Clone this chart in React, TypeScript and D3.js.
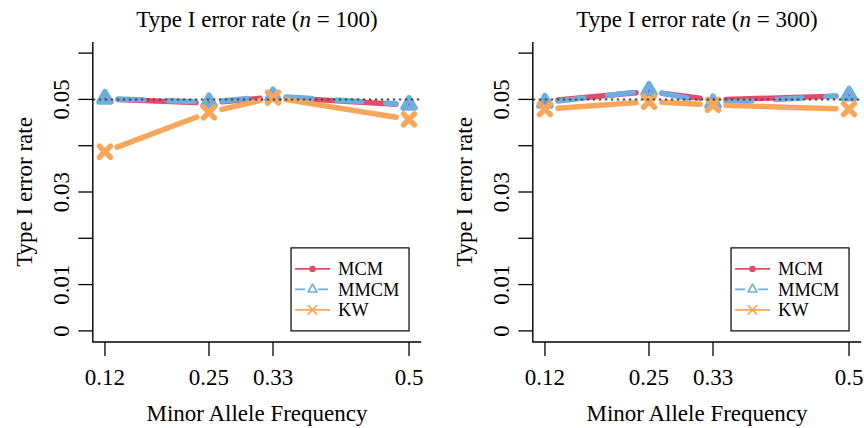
import React from 'react';
import * as d3 from 'd3';

// ---------- data ----------
const mafs = [0.12, 0.25, 0.33, 0.5];
const xTickLabels = ['0.12', '0.25', '0.33', '0.5'];
const yTicks = [0, 0.01, 0.02, 0.03, 0.04, 0.05, 0.06];
const yTickLabels = ['0', '0.01', '', '0.03', '', '0.05', ''];
const sampleSizes = [100, 300];
const seriesNames = ['MCM', 'MMCM', 'KW'];
const seriesColors = ['#E34B6A', '#6CAEE0', '#F9A65A'];
const nominalLevel = 0.05;

const mcm100 = [0.0501, 0.0492, 0.0505, 0.0488];
const mmcm100 = [0.0502, 0.0494, 0.0507, 0.0489];
const kw100 = [0.0387, 0.0472, 0.0504, 0.0457];

const mcm300 = [0.0496, 0.0517, 0.0499, 0.0508];
const mmcm300 = [0.0493, 0.0519, 0.0492, 0.0509];
const kw300 = [0.0479, 0.0495, 0.0488, 0.0479];

const panelData = [
  [mcm100, mmcm100, kw100],
  [mcm300, mmcm300, kw300],
];

// ---------- layout ----------
const W = 864;
const H = 428;
const PANEL_DX = 440;
const PLOT_L = 92.8;
const PLOT_R = 421.2;
const PLOT_T = 42;
const PLOT_B = 342;
const FONT = "'Liberation Serif', 'Times New Roman', 'DejaVu Serif', serif";
const FS = 23;
const GAP = 13;
const LW = 5.4;

const tri = (r: number) =>
  `M0,${-r}L${r * 0.866},${r / 2}L${-r * 0.866},${r / 2}Z`;
const cross = (h: number) => `M${-h},${-h}L${h},${h}M${-h},${h}L${h},${-h}`;

function Marker({ kind, x, y, color, small }: { kind: number; x: number; y: number; color: string; small?: boolean }) {
  if (kind === 0) {
    return <circle cx={x} cy={y} r={small ? 3.2 : 3} fill={color} />;
  }
  if (kind === 1) {
    return (
      <path
        d={tri(small ? 5.2 : 7)}
        transform={`translate(${x},${y})`}
        fill="none"
        stroke={color}
        strokeWidth={small ? 1.6 : LW}
        strokeLinejoin="round"
      />
    );
  }
  return (
    <path
      d={cross(small ? 4.2 : 5.5)}
      transform={`translate(${x},${y})`}
      fill="none"
      stroke={color}
      strokeWidth={small ? 1.6 : LW}
      strokeLinecap="round"
    />
  );
}

function Panel({ idx }: { idx: number }) {
  const dx = idx * PANEL_DX;
  const xr = mafs[mafs.length - 1] - mafs[0];
  const x = d3
    .scaleLinear()
    .domain([mafs[0] - 0.04 * xr, mafs[mafs.length - 1] + 0.04 * xr])
    .range([PLOT_L + dx, PLOT_R + dx]);
  const y0 = yTicks[0];
  const y1 = yTicks[yTicks.length - 1];
  const yr = y1 - y0;
  const y = d3
    .scaleLinear()
    .domain([y0 - 0.04 * yr, y1 + 0.04 * yr])
    .range([PLOT_B, PLOT_T]);
  const left = PLOT_L + dx;
  const right = PLOT_R + dx;
  const cx = (left + right) / 2;
  const cy = (PLOT_T + PLOT_B) / 2;
  const series = panelData[idx];

  const segs = (vals: number[]) => {
    const out: { x1: number; y1: number; x2: number; y2: number }[] = [];
    for (let i = 0; i < vals.length - 1; i++) {
      const ax = x(mafs[i]);
      const ay = y(vals[i]);
      const bx = x(mafs[i + 1]);
      const by = y(vals[i + 1]);
      const len = Math.hypot(bx - ax, by - ay);
      if (len <= 2 * GAP) continue;
      const ux = (bx - ax) / len;
      const uy = (by - ay) / len;
      out.push({ x1: ax + ux * GAP, y1: ay + uy * GAP, x2: bx - ux * GAP, y2: by - uy * GAP });
    }
    return out;
  };

  // legend
  const lgR = x(mafs[mafs.length - 1]);
  const lgB = y(0);
  const lgW = 118;
  const lgH = 83;
  const lgL = lgR - lgW;
  const lgT = lgB - lgH;
  const rowY = [lgT + 21, lgT + 41.5, lgT + 62];

  return (
    <g>
      <text x={cx} y={27} textAnchor="middle" fontSize={FS} fontFamily={FONT} fill="#000">
        {'Type I error rate ('}
        <tspan fontStyle="italic">n</tspan>
        {' = ' + sampleSizes[idx] + ')'}
      </text>

      {/* series */}
      {series.map((vals, si) => (
        <g key={si}>
          {segs(vals).map((s, k) => (
            <line
              key={k}
              x1={s.x1}
              y1={s.y1}
              x2={s.x2}
              y2={s.y2}
              stroke={seriesColors[si]}
              strokeWidth={LW}
              strokeLinecap="round"
              strokeDasharray={si === 1 ? '26 24' : undefined}
            />
          ))}
          {vals.map((v, k) => (
            <Marker key={k} kind={si} x={x(mafs[k])} y={y(v)} color={seriesColors[si]} />
          ))}
        </g>
      ))}

      {/* reference line */}
      <line
        x1={left}
        x2={right}
        y1={y(nominalLevel)}
        y2={y(nominalLevel)}
        stroke="#4a4a4a"
        strokeWidth={2}
        strokeDasharray="2.5 3.5"
      />

      {/* box (L) */}
      <path d={`M${left},${PLOT_T}V${PLOT_B}H${right}`} fill="none" stroke="#000" strokeWidth={1.4} />

      {/* x axis */}
      {mafs.map((m, i) => (
        <g key={i}>
          <line x1={x(m)} x2={x(m)} y1={PLOT_B} y2={PLOT_B + 14} stroke="#000" strokeWidth={1.3} />
          <text x={x(m)} y={385} textAnchor="middle" fontSize={FS} fontFamily={FONT}>
            {xTickLabels[i]}
          </text>
        </g>
      ))}
      <text x={cx} y={421} textAnchor="middle" fontSize={FS} fontFamily={FONT}>
        Minor Allele Frequency
      </text>

      {/* y axis */}
      {yTicks.map((t, i) => (
        <g key={i}>
          <line x1={left - 14.5} x2={left} y1={y(t)} y2={y(t)} stroke="#000" strokeWidth={1.3} />
          {yTickLabels[i] !== '' && (
            <text
              x={left - 24}
              y={y(t)}
              transform={`rotate(-90, ${left - 24}, ${y(t)})`}
              textAnchor="middle"
              fontSize={FS}
              fontFamily={FONT}
            >
              {yTickLabels[i]}
            </text>
          )}
        </g>
      ))}
      <text
        x={left - 60.5}
        y={cy}
        transform={`rotate(-90, ${left - 60.5}, ${cy})`}
        textAnchor="middle"
        fontSize={FS}
        fontFamily={FONT}
      >
        Type I error rate
      </text>

      {/* legend */}
      <rect x={lgL} y={lgT} width={lgW} height={lgH} fill="#fff" stroke="#000" strokeWidth={1.2} />
      {seriesNames.map((name, si) => (
        <g key={si}>
          <line
            x1={lgL + 4}
            x2={lgL + 39}
            y1={rowY[si]}
            y2={rowY[si]}
            stroke={seriesColors[si]}
            strokeWidth={1.8}
            strokeDasharray={si === 1 ? '10 13' : undefined}
          />
          <Marker kind={si} x={lgL + 21.5} y={rowY[si]} color={seriesColors[si]} small />
          <text x={lgL + 47} y={rowY[si] + 6.5} fontSize={18.4} fontFamily={FONT}>
            {name}
          </text>
        </g>
      ))}
    </g>
  );
}

export default function App() {
  return (
    <svg
      width={W}
      height={H}
      viewBox={`0 0 ${W} ${H}`}
      style={{ position: 'absolute', left: 0, top: 0, background: '#fff' }}
    >
      <rect width={W} height={H} fill="#fff" />
      {sampleSizes.map((_, i) => (
        <Panel key={i} idx={i} />
      ))}
    </svg>
  );
}
